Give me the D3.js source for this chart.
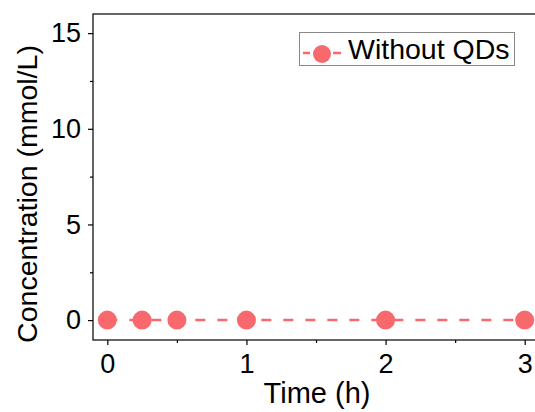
<!DOCTYPE html>
<html><head><meta charset="utf-8">
<script src="https://cdn.jsdelivr.net/npm/d3@7"></script>
<style>body{margin:0;background:#fff}svg{display:block}text{font-family:Arial,"Liberation Sans",sans-serif;fill:#000}</style>
</head><body>
<svg id="c" width="535" height="412"></svg>
<script>
const times = [0, 0.25, 0.5, 1, 2, 3];
const withoutQDs = [0, 0, 0, 0, 0, 0];
const xTicks = [0, 1, 2, 3];
const yTicks = [0, 5, 10, 15];
const seriesName = "Without QDs";
const color = "#F8696D";

const svg = d3.select("#c");
const L = 93, T = 14, B = 340, R = 540;
const x = d3.scaleLinear().domain([-0.103, 3.11]).range([L, R]);
const y = d3.scaleLinear().domain([-1.04, 16]).range([B, T]);

// frame
svg.append("rect").attr("x", L).attr("y", T).attr("width", R - L).attr("height", B - T)
  .attr("fill", "none").attr("stroke", "#000").attr("stroke-width", 1.2);

// axes
const xAxis = d3.axisBottom(x).tickValues(xTicks).tickSize(5).tickPadding(9).tickFormat(d3.format("d"));
const gx = svg.append("g").attr("transform", `translate(0,${B})`).call(xAxis);
gx.select(".domain").remove();
gx.selectAll("text").style("font-size", "27px").attr("dy", "0.71em");
const xMinor = d3.axisBottom(x).tickValues([0.5, 1.5, 2.5]).tickSize(3).tickFormat("");
const gxm = svg.append("g").attr("transform", `translate(0,${B})`).call(xMinor);
gxm.select(".domain").remove();

const yAxis = d3.axisLeft(y).tickValues(yTicks).tickSize(5).tickPadding(7).tickFormat(d3.format("d"));
const gy = svg.append("g").attr("transform", `translate(${L},0)`).call(yAxis);
gy.select(".domain").remove();
gy.selectAll("text").style("font-size", "27px");
const yMinor = d3.axisLeft(y).tickValues([2.5, 7.5, 12.5]).tickSize(3).tickFormat("");
const gym = svg.append("g").attr("transform", `translate(${L},0)`).call(yMinor);
gym.select(".domain").remove();
svg.selectAll(".tick line").attr("stroke-width", 1.2);

// titles
svg.append("text").attr("x", 317).attr("y", 403).attr("text-anchor", "middle")
  .style("font-size", "29px").text("Time (h)");
svg.append("text").attr("transform", "translate(37,194) rotate(-90)").attr("text-anchor", "middle")
  .style("font-size", "28.5px").text("Concentration (mmol/L)");

// series
const pts = times.map((t, i) => [t, withoutQDs[i]]);
svg.append("path").datum(pts)
  .attr("d", d3.line().x(d => x(d[0])).y(d => y(d[1])))
  .attr("fill", "none").attr("stroke", color).attr("stroke-width", 2.5).attr("stroke-dasharray", "10,12");
svg.append("g").selectAll("circle").data(pts).join("circle")
  .attr("cx", d => x(d[0])).attr("cy", d => y(d[1])).attr("r", 9.5).attr("fill", color);

// legend
const lg = svg.append("g");
lg.append("rect").attr("x", 299.5).attr("y", 32.5).attr("width", 215).attr("height", 33)
  .attr("fill", "#fff").attr("stroke", "#888").attr("stroke-width", 1);
lg.append("line").attr("x1", 303).attr("x2", 310).attr("y1", 53).attr("y2", 53)
  .attr("stroke", color).attr("stroke-width", 2.5);
lg.append("line").attr("x1", 333).attr("x2", 341).attr("y1", 53).attr("y2", 53)
  .attr("stroke", color).attr("stroke-width", 2.5);
lg.append("circle").attr("cx", 322).attr("cy", 54).attr("r", 9).attr("fill", color);
lg.append("text").attr("x", 348).attr("y", 59).style("font-size", "28.5px").text(seriesName);
</script>
</body></html>
